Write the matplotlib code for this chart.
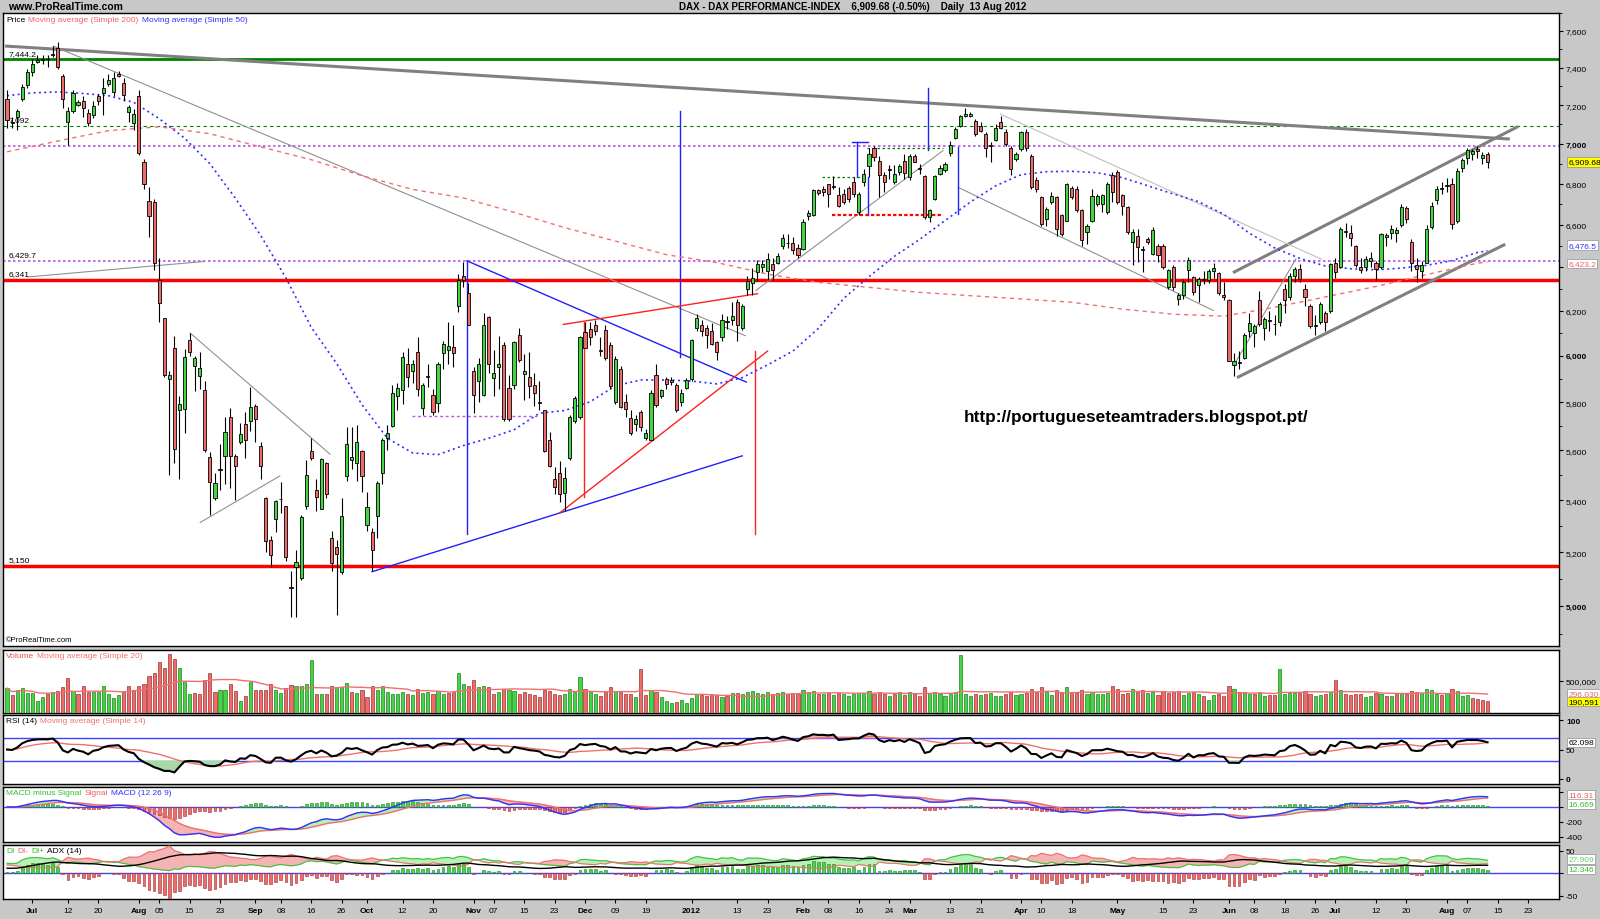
import numpy as np
import pandas as pd
import matplotlib
matplotlib.use('Agg')
import matplotlib.pyplot as plt
from matplotlib import ticker
from matplotlib.transforms import blended_transform_factory

plt.rcParams['font.family'] = ['Liberation Sans', 'DejaVu Sans']

# trading days (Xetra holidays removed)
holidays = ['2011-12-26', '2012-04-06', '2012-04-09', '2012-05-01']
dates = pd.bdate_range('2011-06-24', '2012-08-13')
dates = dates[~dates.isin(pd.to_datetime(holidays))]

opens = [
    7231, 7115, 7141, 7231, 7308, 7374, 7432, 7440, 7446, 7470,
    7507, 7353, 7112, 7171, 7201, 7221, 7161, 7147, 7247, 7267,
    7312, 7271, 7367, 7316, 7165, 7108, 7251, 6906, 6716, 6710,
    6339, 6168, 5899, 6035, 5769, 5772, 6069, 5957, 5910, 5850,
    5574, 5410, 5525, 5579, 5737, 5579, 5633, 5708, 5721, 5785,
    5618, 5410, 5246, 5328, 5406, 5377, 5070, 5145, 5103, 5380,
    5597, 5443, 5368, 5551, 5254, 5221, 5124, 5498, 5560, 5548,
    5597, 5305, 5279, 5338, 5509, 5649, 5702, 5825, 5850, 5965,
    5932, 6018, 5777, 5912, 5830, 5798, 6011, 6024, 6039, 6220,
    6360, 6281, 5932, 5890, 5830, 6172, 5903, 5949, 6049, 5860,
    5874, 6091, 5919, 5907, 5874, 5800, 5766, 5644, 5483, 5509,
    5428, 5571, 5721, 5737, 6103, 6117, 6134, 6026, 6113, 6049,
    5801, 5940, 5801, 5734, 5708, 5761, 5649, 5644, 5915, 5826,
    5899, 5895, 5874, 5801, 5862, 5899, 6120, 6137, 6120, 6108,
    6058, 6083, 6154, 6160, 6241, 6120, 6298, 6325, 6375, 6400,
    6382, 6414, 6418, 6500, 6512, 6515, 6489, 6485, 6640, 6648,
    6767, 6775, 6800, 6790, 6745, 6750, 6780, 6808, 6661, 6811,
    6887, 6978, 6916, 6842, 6873, 6811, 6860, 6916, 6833, 6941,
    6876, 6838, 6637, 6726, 6850, 6866, 6954, 7028, 7094, 7146,
    7146, 7120, 7090, 7051, 6995, 7022, 7111, 7060, 6978, 6925,
    6974, 7060, 6941, 6821, 6734, 6628, 6709, 6734, 6645, 6620,
    6780, 6775, 6669, 6564, 6620, 6701, 6701, 6661, 6845, 6858,
    6745, 6685, 6520, 6548, 6485, 6530, 6462, 6501, 6501, 6308,
    6400, 6255, 6270, 6385, 6353, 6315, 6345, 6339, 6380, 6370,
    6270, 6250, 5960, 5970, 5990, 6110, 6100, 6250, 6120, 6160,
    6140, 6150, 6300, 6260, 6360, 6390, 6300, 6220, 6130, 6150,
    6190, 6200, 6420, 6400, 6570, 6560, 6500, 6400, 6400, 6430,
    6420, 6400, 6540, 6560, 6560, 6600, 6680, 6520, 6410, 6380,
    6420, 6590, 6720, 6780, 6790, 6800, 6620, 6880, 6930, 6950,
    6975, 6930, 6950]

highs = [
    7282, 7141, 7181, 7312, 7394, 7446, 7466, 7470, 7466, 7517,
    7540, 7363, 7191, 7282, 7225, 7251, 7181, 7221, 7261, 7343,
    7363, 7374, 7384, 7343, 7201, 7181, 7282, 6926, 6782, 6725,
    6441, 6168, 5932, 6087, 5826, 6028, 6100, 5998, 6015, 5890,
    5594, 5509, 5626, 5737, 5777, 5587, 5713, 5761, 5865, 5793,
    5633, 5413, 5261, 5402, 5471, 5380, 5131, 5210, 5343, 5563,
    5649, 5486, 5571, 5555, 5283, 5246, 5410, 5697, 5697, 5705,
    5603, 5433, 5291, 5478, 5649, 5705, 5874, 5882, 6015, 6032,
    5982, 6083, 5882, 5965, 5857, 5974, 6066, 6151, 6134, 6369,
    6423, 6325, 5949, 5990, 6189, 6177, 6024, 6087, 6058, 5915,
    6066, 6120, 6007, 6015, 5924, 5890, 5769, 5676, 5532, 5556,
    5532, 5745, 5826, 6087, 6151, 6151, 6160, 6083, 6134, 6058,
    5998, 5957, 5834, 5766, 5745, 5769, 5689, 5850, 5965, 5857,
    5907, 5907, 5882, 5857, 5903, 6074, 6186, 6160, 6134, 6143,
    6066, 6186, 6177, 6237, 6255, 6229, 6360, 6396, 6432, 6432,
    6464, 6441, 6464, 6558, 6558, 6540, 6510, 6628, 6670, 6775,
    6775, 6790, 6800, 6838, 6783, 6775, 6790, 6833, 6759, 6874,
    6978, 6991, 6941, 6858, 6891, 6891, 6899, 6949, 6949, 6949,
    6899, 6841, 6677, 6841, 6891, 6907, 7016, 7085, 7149, 7188,
    7163, 7128, 7111, 7060, 7008, 7102, 7145, 7077, 6991, 6958,
    7068, 7077, 6949, 6833, 6742, 6685, 6759, 6742, 6653, 6803,
    6791, 6791, 6674, 6604, 6775, 6750, 6750, 6808, 6858, 6866,
    6750, 6693, 6580, 6580, 6501, 6540, 6588, 6509, 6509, 6392,
    6408, 6278, 6345, 6446, 6360, 6353, 6380, 6390, 6420, 6375,
    6330, 6255, 6010, 6020, 6100, 6190, 6140, 6290, 6170, 6200,
    6180, 6240, 6320, 6370, 6400, 6415, 6320, 6230, 6180, 6240,
    6200, 6420, 6440, 6590, 6610, 6600, 6505, 6440, 6450, 6470,
    6430, 6560, 6560, 6600, 6590, 6700, 6690, 6530, 6440, 6430,
    6600, 6710, 6790, 6810, 6830, 6830, 6880, 6930, 6980, 6975,
    6990, 6960, 6960]

lows = [
    7082, 7082, 7072, 7221, 7292, 7353, 7425, 7420, 7405, 7456,
    7394, 7187, 6994, 7161, 7195, 7141, 7092, 7135, 7201, 7151,
    7302, 7251, 7349, 7221, 7112, 7072, 6945, 6772, 6540, 6387,
    6151, 5907, 5501, 5548, 5486, 5673, 5998, 5846, 5857, 5594,
    5342, 5402, 5440, 5463, 5448, 5402, 5625, 5571, 5681, 5633,
    5486, 5200, 5145, 5276, 5350, 5167, 4962, 4962, 5097, 5365,
    5563, 5358, 5365, 5410, 5131, 4969, 5120, 5478, 5525, 5478,
    5433, 5283, 5131, 5254, 5463, 5602, 5697, 5769, 5793, 5865,
    5882, 5826, 5745, 5865, 5745, 5761, 5940, 5965, 5949, 6194,
    6307, 6134, 5753, 5801, 5826, 5924, 5826, 5857, 5721, 5721,
    5857, 5974, 5809, 5817, 5785, 5766, 5594, 5532, 5425, 5394,
    5358, 5563, 5713, 5729, 6032, 6049, 6091, 5998, 5982, 5857,
    5793, 5777, 5737, 5665, 5681, 5681, 5641, 5641, 5782, 5817,
    5857, 5874, 5761, 5785, 5857, 5890, 6108, 6087, 6035, 6049,
    5982, 6066, 6117, 6134, 6066, 6113, 6272, 6272, 6334, 6378,
    6342, 6342, 6414, 6486, 6490, 6460, 6440, 6478, 6625, 6640,
    6745, 6740, 6685, 6775, 6685, 6700, 6710, 6734, 6648, 6791,
    6833, 6916, 6734, 6759, 6825, 6800, 6841, 6825, 6821, 6907,
    6850, 6628, 6612, 6718, 6841, 6858, 6941, 7025, 7085, 7140,
    7140, 7042, 7060, 6933, 6907, 7016, 7077, 6991, 6841, 6916,
    6966, 6966, 6775, 6759, 6596, 6596, 6701, 6548, 6548, 6620,
    6726, 6661, 6501, 6509, 6612, 6693, 6661, 6653, 6710, 6701,
    6645, 6556, 6408, 6423, 6377, 6510, 6454, 6423, 6392, 6300,
    6292, 6224, 6255, 6330, 6270, 6240, 6320, 6325, 6350, 6270,
    6250, 5975, 5914, 5940, 5985, 6080, 6040, 6130, 6070, 6110,
    6090, 6130, 6190, 6250, 6330, 6330, 6220, 6120, 6090, 6140,
    6110, 6190, 6350, 6395, 6540, 6500, 6400, 6370, 6380, 6400,
    6340, 6390, 6500, 6530, 6520, 6590, 6610, 6380, 6330, 6350,
    6420, 6580, 6700, 6750, 6760, 6580, 6610, 6860, 6900, 6920,
    6930, 6900, 6880]

closes = [
    7121, 7110, 7171, 7296, 7374, 7418, 7440, 7446, 7444, 7472,
    7405, 7231, 7171, 7265, 7217, 7187, 7108, 7195, 7221, 7292,
    7333, 7343, 7353, 7255, 7191, 7155, 6955, 6797, 6641, 6418,
    6234, 5918, 5915, 5607, 5793, 5995, 6018, 5990, 5945, 5602,
    5474, 5468, 5522, 5676, 5579, 5535, 5668, 5641, 5782, 5729,
    5535, 5242, 5191, 5398, 5404, 5181, 5065, 5162, 5335, 5501,
    5571, 5413, 5566, 5425, 5160, 5195, 5338, 5626, 5575, 5633,
    5498, 5373, 5210, 5468, 5641, 5670, 5841, 5860, 5993, 5907,
    5965, 5857, 5874, 5908, 5761, 5965, 6052, 6041, 6011, 6342,
    6342, 6137, 5830, 5962, 6134, 5965, 5924, 5962, 5729, 5729,
    6058, 5982, 5932, 5868, 5841, 5797, 5597, 5535, 5452, 5425,
    5489, 5740, 5817, 6083, 6032, 6080, 6108, 6022, 5990, 5870,
    5985, 5782, 5772, 5670, 5729, 5697, 5670, 5841, 5788, 5850,
    5879, 5885, 5769, 5841, 5895, 6069, 6165, 6108, 6091, 6052,
    6015, 6160, 6150, 6177, 6137, 6220, 6334, 6351, 6414, 6414,
    6436, 6387, 6450, 6537, 6514, 6480, 6454, 6615, 6656, 6767,
    6755, 6759, 6750, 6786, 6693, 6710, 6726, 6750, 6750, 6850,
    6949, 6933, 6842, 6808, 6869, 6850, 6887, 6854, 6941, 6911,
    6872, 6637, 6669, 6838, 6878, 6899, 6995, 7077, 7142, 7154,
    7154, 7051, 7068, 6978, 6990, 7080, 7080, 7000, 6874, 6950,
    7060, 6978, 6783, 6775, 6604, 6677, 6742, 6580, 6556, 6800,
    6734, 6669, 6525, 6596, 6742, 6742, 6746, 6800, 6759, 6710,
    6693, 6564, 6567, 6493, 6478, 6520, 6577, 6454, 6400, 6385,
    6308, 6270, 6330, 6431, 6285, 6345, 6339, 6380, 6394, 6281,
    6264, 5978, 5978, 5969, 6093, 6144, 6130, 6141, 6162, 6152,
    6138, 6229, 6248, 6357, 6393, 6343, 6263, 6132, 6137, 6228,
    6150, 6416, 6378, 6578, 6566, 6535, 6410, 6387, 6438, 6444,
    6389, 6557, 6553, 6579, 6574, 6684, 6630, 6419, 6390, 6409,
    6582, 6690, 6774, 6772, 6796, 6606, 6865, 6919, 6967, 6966,
    6965, 6944, 6909.68]

# volume in thousands of shares
volume_k = [
    390, 277, 367, 383, 309, 309, 186, 255, 303, 330,
    346, 399, 548, 346, 303, 426, 330, 330, 330, 415,
    303, 239, 282, 346, 426, 367, 415, 452, 580, 628,
    798, 707, 920, 851, 707, 505, 303, 319, 303, 516,
    622, 330, 356, 356, 452, 346, 186, 266, 489, 367,
    367, 367, 452, 356, 319, 383, 436, 426, 426, 452,
    824, 303, 303, 303, 420, 399, 399, 463, 330, 319,
    356, 250, 415, 356, 426, 330, 303, 292, 330, 300,
    280, 380, 320, 330, 300, 340, 300, 310, 330, 620,
    450, 420, 520, 400, 420, 400, 300, 330, 380, 360,
    340, 300, 330, 300, 280, 250, 360, 350, 300, 280,
    300, 380, 330, 560, 380, 330, 300, 270, 330, 400,
    350, 330, 300, 290, 250, 690, 280, 360, 330, 250,
    180, 150, 170, 200, 160, 230, 300, 280, 270, 300,
    280, 250, 260, 310, 320, 290, 330, 340, 320, 290,
    330, 290, 310, 330, 300, 320, 300, 360, 330, 340,
    290, 300, 320, 280, 310, 290, 270, 300, 320, 310,
    340, 300, 330, 290, 270, 300, 330, 280, 330, 300,
    260, 400, 310, 330, 290, 260, 300, 330, 900, 300,
    260, 290, 280, 300, 310, 270, 260, 300, 330, 280,
    300, 310, 380, 330, 400, 330, 280, 360, 330, 400,
    330, 310, 360, 300, 330, 290, 300, 310, 420, 370,
    300, 320, 380, 330, 360, 310, 330, 280, 340, 310,
    330, 350, 280, 320, 330, 300, 260, 200, 280, 300,
    270, 420, 380, 330, 330, 290, 300, 330, 260, 280,
    280, 690, 300, 320, 310, 320, 340, 300, 260, 280,
    300, 330, 520, 360, 300, 280, 300, 290, 250, 260,
    310, 300, 260, 270, 290, 320, 300, 350, 330, 310,
    380, 360, 300, 280, 320, 380, 340, 260, 280, 230,
    220, 210, 190.591]

# moving averages (every 10th / 5th bar)
ma200_every10 = [6960, 7015, 7068, 7088, 7052, 6985, 6920, 6840, 6772, 6730,
                 6660, 6586, 6522, 6458, 6421, 6367, 6329, 6306, 6283, 6268,
                 6253, 6238, 6207, 6184, 6175, 6215, 6262, 6310, 6365, 6418]
ma200_last = 6423.2
ma50_every5 = [7250, 7265, 7270, 7262, 7250, 7215, 7130, 7030, 6900, 6730,
               6550, 6350, 6125, 5966, 5790, 5650, 5590, 5583, 5620, 5650,
               5685, 5754, 5765, 5802, 5870, 5895, 5895, 5890, 5878, 5905,
               5960, 6020, 6120, 6255, 6355, 6450, 6530, 6620, 6710, 6790,
               6845, 6860, 6862, 6855, 6830, 6790, 6750, 6712, 6650, 6560,
               6490, 6440, 6405, 6392, 6387, 6395, 6408, 6430, 6468]
ma50_last = 6476.5

# horizontal levels drawn on the chart
level_green = 7444.2
level_green_dash = 7092
level_purple = [6990, 6429.7]
level_red = [6341, 5150]

# trend lines: (bar, price, bar, price)
gray_thick = [(-0.4, 7517, 296.4, 7025), (241.8, 6374, 298, 7089), (242.6, 5905, 295.5, 6507)]
gray_thin = [(9.1, 7517, 145.6, 6088), (4.1, 6354, 38.9, 6426), (36.1, 6100, 63.7, 5585),
             (38.1, 5314, 53.8, 5497), (147.7, 6292, 184.6, 6966), (187.6, 6782, 237.9, 6201),
             (242.2, 5967, 254.2, 6437)]
gray_light = [(195.9, 7154, 259.2, 6437)]
blue_lines = [(90.7, 6429, 145.8, 5886), (72, 5127, 145, 5578), (90.7, 6429, 90.7, 5268),
              (132.7, 7170, 132.7, 5993), (167.7, 7010, 167.7, 6834), (166.7, 7010, 169.8, 7010),
              (169.8, 6834, 169.8, 6649), (181.7, 7291, 181.7, 6971), (187.6, 6982, 187.6, 6653)]
red_lines = [(109.7, 6138, 148, 6277), (109, 5351, 150, 6020), (113.8, 6149, 113.8, 5413),
             (147.5, 6020, 147.5, 5268)]
red_dotted = [(162.7, 6649, 184.6, 6649)]
green_dotted = [(160.7, 6834, 169.7, 6834), (169.7, 6978, 184.6, 6978)]
purple_dotted = [(79.9, 5743, 104.7, 5743)]

xtick_dates = ['2011-07-01', '2011-07-12', '2011-07-20', '2011-08-01', '2011-08-05', '2011-08-15',
               '2011-08-23', '2011-09-01', '2011-09-08', '2011-09-16', '2011-09-26', '2011-10-03',
               '2011-10-12', '2011-10-20', '2011-11-01', '2011-11-07', '2011-11-15', '2011-11-23',
               '2011-12-01', '2011-12-09', '2011-12-19', '2012-01-02', '2012-01-13', '2012-01-23',
               '2012-02-01', '2012-02-08', '2012-02-16', '2012-02-24', '2012-03-01', '2012-03-13',
               '2012-03-21', '2012-04-02', '2012-04-10', '2012-04-18', '2012-05-02', '2012-05-15',
               '2012-05-23', '2012-06-01', '2012-06-08', '2012-06-18', '2012-06-26', '2012-07-02',
               '2012-07-12', '2012-07-20', '2012-08-01', '2012-08-07', '2012-08-15', '2012-08-23']
xtick_labels = ['Jul', '12', '20', 'Aug', '05', '15', '23', 'Sep', '08', '16', '26', 'Oct',
                '12', '20', 'Nov', '07', '15', '23', 'Dec', '09', '19', '2012', '13', '23',
                'Feb', '08', '16', '24', 'Mar', '13', '21', 'Apr', '10', '18', 'May', '15',
                '23', 'Jun', '08', '18', '26', 'Jul', '12', '20', 'Aug', '07', '15', '23']

GREEN = '#44d444'
RED = '#ec6b6b'
BG = '#c8c8c8'
FS = 6

o = np.array(opens, float)
h = np.array(highs, float)
l = np.array(lows, float)
c = np.array(closes, float)
vol = np.array(volume_k) * 1000
n = len(c)
x = np.arange(n)


def wilder(values, seed, period=14):
    # Wilder smoothing started from a neutral seed instead of the first bar
    s = pd.Series(np.r_[seed, np.asarray(values, float)])
    return s.ewm(alpha=1/period, adjust=False).mean().values[1:]


# indicators
cs = pd.Series(c)
d = cs.diff().fillna(0).values
rsi = 100 - 100 / (1 + wilder(np.clip(d, 0, None), 30) / wilder(np.clip(-d, 0, None), 30))
rsi_ma = pd.Series(rsi).rolling(14, min_periods=1).mean().values

macd = (cs.ewm(span=12, adjust=False).mean() - cs.ewm(span=26, adjust=False).mean()).values
signal = pd.Series(macd).ewm(span=9, adjust=False).mean().values
hist = macd - signal

hs, ls = pd.Series(h), pd.Series(l)
up_move = hs.diff().fillna(0)
dn_move = (-ls.diff()).fillna(0)
pdm = np.where((up_move > dn_move) & (up_move > 0), up_move, 0.0)
mdm = np.where((dn_move > up_move) & (dn_move > 0), dn_move, 0.0)
tr = pd.concat([hs - ls, (hs - cs.shift()).abs(), (ls - cs.shift()).abs()], axis=1).max(axis=1).values
atr = wilder(tr, 90)
pdi = 100 * wilder(pdm, 24) / atr
mdi = 100 * wilder(mdm, 20) / atr
dx = 100 * np.abs(pdi - mdi) / (pdi + mdi)
adx = wilder(dx, 12)
di = pdi - mdi

vol_ma = pd.Series(vol).rolling(20, min_periods=1).mean().values

# figure
fig = plt.figure(figsize=(16, 9.2), dpi=100, facecolor=BG)


def panel(top, bottom):
    a = fig.add_axes([3/1600, 1 - bottom/920, 1556/1600, (bottom - top)/920])
    a.set_facecolor('white')
    a.set_xlim(-0.8, 306.1)
    a.yaxis.tick_right()
    a.tick_params(axis='y', labelsize=FS, length=3, pad=2, direction='out')
    a.tick_params(axis='x', length=0, labelbottom=False)
    for s in a.spines.values():
        s.set_linewidth(1)
    return a


ax = panel(14, 647)
axv = panel(651, 714)
axr = panel(716, 785)
axm = panel(788, 843)
axd = panel(846, 900)

# price panel
ax.set_yscale('log')
ax.set_ylim(4857, 7700)
majors = np.arange(5000, 7601, 200)
ax.yaxis.set_major_locator(ticker.FixedLocator(majors))
ax.yaxis.set_minor_locator(ticker.FixedLocator(np.arange(4900, 7701, 100)))
# 6,400 sits behind the moving-average value boxes in the reference
ax.yaxis.set_major_formatter(ticker.FuncFormatter(lambda v, p: '' if v == 6400 else f'{v:,.0f}'))
ax.yaxis.set_minor_formatter(ticker.NullFormatter())
ax.tick_params(axis='y', which='minor', length=2)
for t, v in zip(ax.get_yticklabels(), majors):
    if v % 1000 == 0:
        t.set_fontweight('bold')

ax.axhline(level_green, color='#008000', lw=2, zorder=2)
ax.axhline(level_green_dash, color='#008000', lw=0.8, ls=(0, (3, 3)), zorder=2)
for lv in level_purple:
    ax.axhline(lv, color='#b455e6', lw=1.2, ls=(0, (1.5, 1.5)), zorder=2)
for lv in level_red:
    ax.axhline(lv, color='#ff0000', lw=2.5, zorder=2)
for lv, txt in [(level_green, '7,444.2'), (level_green_dash, '7,092'), (level_purple[1], '6,429.7'),
                (level_red[0], '6,341'), (level_red[1], '5,150')]:
    ax.text(0.3, lv * 1.002, txt, fontsize=FS, va='bottom', ha='left', zorder=6)


def draw_lines(lines, **kw):
    for x1, y1, x2, y2 in lines:
        ax.plot([x1, x2], [y1, y2], **kw)


draw_lines(gray_thick, color='#808080', lw=2.2, zorder=2, solid_capstyle='butt')
draw_lines(gray_thin, color='#909090', lw=0.8, zorder=2)
draw_lines(gray_light, color='#c0c0c0', lw=0.8, zorder=2)
draw_lines(blue_lines, color='#2020ff', lw=1, zorder=2)
draw_lines(red_lines, color='#ff2020', lw=1, zorder=2)
draw_lines(red_dotted, color='#ff0000', lw=1.6, ls=(0, (1.5, 1)), zorder=2)
draw_lines(green_dotted, color='#008000', lw=0.9, ls=(0, (2, 2)), zorder=2)
draw_lines(purple_dotted, color='#b455e6', lw=1, ls=(0, (2, 2)), zorder=2)

x200 = list(range(0, 291, 10)) + [n - 1]
x50 = list(range(0, 291, 5)) + [n - 1]
ax.plot(x200, ma200_every10 + [ma200_last], color='#f07070', lw=1, ls=(0, (3, 3)), zorder=2)
ax.plot(x50, ma50_every5 + [ma50_last], color='#3030ff', lw=1.2, ls=(0, (1.2, 2)), zorder=2)

bull = c >= o
ax.vlines(x, l, h, color='black', lw=0.8, zorder=3)
ax.bar(x, np.maximum(np.abs(c - o), 2), bottom=np.minimum(o, c), width=0.62,
       color=np.where(bull, GREEN, RED), edgecolor='black', lw=0.6, zorder=4)

ax.text(0.6175, 0.362, 'http://portugueseteamtraders.blogspot.pt/', transform=ax.transAxes,
        fontsize=12.4, fontweight='bold', ha='left', va='center', zorder=6)
ax.text(0.002, 0.004, '©ProRealTime.com', transform=ax.transAxes, fontsize=5.5,
        ha='left', va='bottom', zorder=6)

renderer = fig.canvas.get_renderer()


def legend_text(a, parts):
    xp = 3
    for txt, col in parts:
        t = a.annotate(txt, xy=(0, 1), xycoords='axes fraction', xytext=(xp, -6),
                       textcoords='offset pixels', color=col, fontsize=6, va='center', ha='left')
        xp += t.get_window_extent(renderer).width + 3


legend_text(ax, [('Price', 'black'), ('Moving average (Simple 200)', '#f06060'),
                 ('Moving average (Simple 50)', '#3030ff')])


def right_box(a, y, txt, fc, tc):
    tf = blended_transform_factory(a.transAxes, a.transData)
    a.text(1.006, y, txt, transform=tf, fontsize=FS, color=tc, ha='left', va='center',
           clip_on=False, zorder=10,
           bbox=dict(boxstyle='square,pad=0.15', fc=fc, ec='#909090', lw=0.5))


right_box(ax, c[-1], '6,909.68', '#ffff00', 'black')
right_box(ax, ma50_last * 1.004, '6,476.5', 'white', '#3030ff')
right_box(ax, ma200_last * 0.999, '6,423.2', 'white', '#f06060')

# volume panel
rising = np.r_[True, c[1:] >= c[:-1]]
axv.bar(x, vol, width=0.62, color=np.where(rising, GREEN, RED),
        edgecolor=np.where(rising, '#208020', '#a03030'), lw=0.5, zorder=3)
axv.plot(x, vol_ma, color='#f07070', lw=1, zorder=4)
axv.set_ylim(0, 984000)
axv.set_yticks([500000])
axv.set_yticklabels(['500,000'])
legend_text(axv, [('Volume', '#e05050'), ('Moving average (Simple 20)', '#f07070')])
right_box(axv, 300000, f'{vol_ma[-1]:,.0f}', 'white', '#f06060')
right_box(axv, 180000, '190,591', '#ffff00', 'black')

# RSI panel
axr.plot(x, rsi_ma, color='#f07070', lw=1, zorder=3)
axr.plot(x, rsi, color='black', lw=1.5, zorder=4)
axr.axhline(70, color='#4040ff', lw=1, zorder=2)
axr.axhline(30, color='#4040ff', lw=1, zorder=2)
axr.fill_between(x, rsi, 30, where=rsi < 30, interpolate=True, color='#a8d8a8', zorder=2)
axr.fill_between(x, rsi, 70, where=rsi > 70, interpolate=True, color='#f0b0b0', zorder=2)
axr.set_ylim(-8.5, 108.5)
axr.set_yticks([0, 50, 100])
axr.set_yticklabels(['0', '50', '100'])
for t in axr.get_yticklabels():
    if t.get_text() != '50':
        t.set_fontweight('bold')
legend_text(axr, [('RSI (14)', 'black'), ('Moving average (Simple 14)', '#f07070')])
right_box(axr, 62.098, '62.098', 'white', 'black')

# MACD panel
axm.fill_between(x, macd, signal, where=macd >= signal, interpolate=True, color='#b8f0b8', zorder=2)
axm.fill_between(x, macd, signal, where=macd < signal, interpolate=True, color='#f4b4b4', zorder=2)
axm.bar(x, hist, width=0.55, color=np.where(hist >= 0, GREEN, RED),
        edgecolor=np.where(hist >= 0, '#208020', '#a03030'), lw=0.4, zorder=3)
axm.plot(x, signal, color='#f07070', lw=1, zorder=4)
axm.plot(x, macd, color='#3030ff', lw=1, zorder=4)
axm.axhline(0, color='#4040ff', lw=1, zorder=2)
axm.set_ylim(-467, 267)
axm.set_yticks([-400, -200, 0, 200])
axm.set_yticklabels(['-400', '-200', '', ''])
legend_text(axm, [('MACD minus Signal', '#30c030'), ('Signal', '#f06060'), ('MACD (12 26 9)', '#3030ff')])
right_box(axm, 160, '116.31', 'white', '#f06060')
right_box(axm, 40, '16.669', 'white', '#30c030')

# DI / ADX panel
axd.fill_between(x, pdi, mdi, where=pdi >= mdi, interpolate=True, color='#b8f0b8', zorder=2)
axd.fill_between(x, pdi, mdi, where=pdi < mdi, interpolate=True, color='#f4b4b4', zorder=2)
axd.bar(x, di, width=0.55, color=np.where(di >= 0, GREEN, RED),
        edgecolor=np.where(di >= 0, '#208020', '#a03030'), lw=0.4, zorder=3)
axd.plot(x, pdi, color='#40c040', lw=0.8, zorder=4)
axd.plot(x, mdi, color='#f07070', lw=0.8, zorder=4)
axd.plot(x, adx, color='black', lw=1, zorder=5)
axd.axhline(0, color='#4040ff', lw=1, zorder=2)
axd.set_ylim(-56.7, 63.3)
axd.set_yticks([-50, 0, 50])
axd.set_yticklabels(['-50', '', '50'])
legend_text(axd, [('DI', '#30c030'), ('DI-', '#f06060'), ('DI+', '#30c030'), ('ADX (14)', 'black')])
right_box(axd, 32, '27.909', 'white', '#60d060')
right_box(axd, 8.5, '12.346', 'white', '#30c030')

# x axis labels on the bottom panel
all_days = pd.bdate_range('2011-06-24', '2012-08-31')
all_days = all_days[~all_days.isin(pd.to_datetime(holidays))]
xpos = all_days.get_indexer(pd.to_datetime(xtick_dates))
axd.set_xticks(xpos)
axd.set_xticklabels(xtick_labels)
axd.tick_params(axis='x', labelbottom=True, labelsize=FS, length=3, pad=3)
for t in axd.get_xticklabels():
    if not t.get_text().isdigit() or t.get_text() == '2012':
        t.set_fontweight('bold')

# title bar
fig.text(8/1600, 1 - 7/920, 'www.ProRealTime.com', fontsize=7.5, fontweight='bold', va='center')
fig.text(853/1600, 1 - 7/920, 'DAX - DAX PERFORMANCE-INDEX    6,909.68 (-0.50%)    Daily  13 Aug 2012',
         fontsize=7, fontweight='bold', va='center', ha='center')

fig.savefig('out.png', dpi=100, facecolor=BG)
